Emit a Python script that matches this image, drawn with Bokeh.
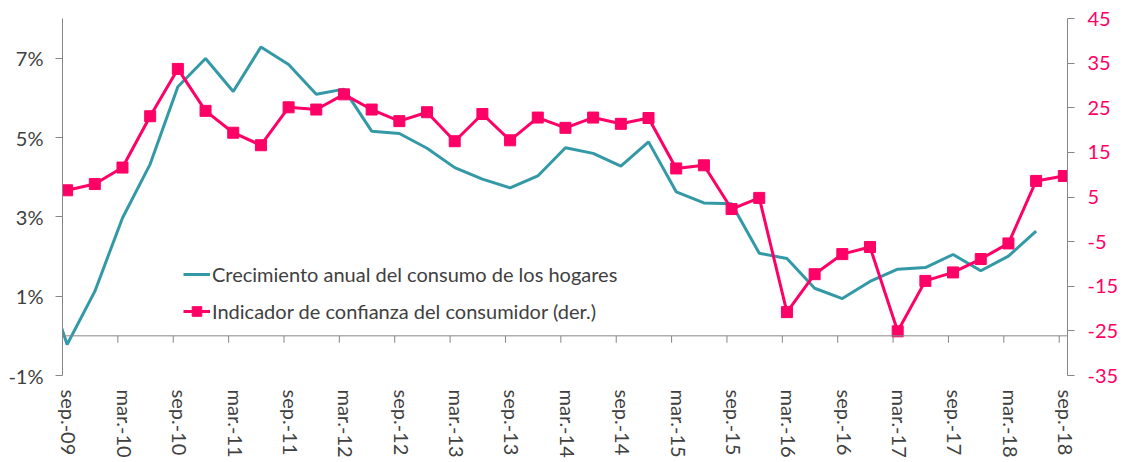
from bokeh.plotting import figure
from bokeh.models import (Range1d, LinearAxis, FixedTicker, PrintfTickFormatter,
                          Span, Legend, LegendItem, ColumnDataSource)
from bokeh.embed import file_html
from bokeh.resources import INLINE

# ---- data (quarterly) ----
quarters = ["sep.-09", "dic.-09", "mar.-10", "jun.-10", "sep.-10", "dic.-10",
            "mar.-11", "jun.-11", "sep.-11", "dic.-11", "mar.-12", "jun.-12",
            "sep.-12", "dic.-12", "mar.-13", "jun.-13", "sep.-13", "dic.-13",
            "mar.-14", "jun.-14", "sep.-14", "dic.-14", "mar.-15", "jun.-15",
            "sep.-15", "dic.-15", "mar.-16", "jun.-16", "sep.-16", "dic.-16",
            "mar.-17", "jun.-17", "sep.-17", "dic.-17", "mar.-18", "jun.-18",
            "sep.-18"]

# Crecimiento anual del consumo de los hogares (%), first value = jun.-09
consumo_prev = 1.9
consumo = [-0.22, 1.12, 2.97, 4.33, 6.28, 6.99, 6.16, 7.28, 6.84, 6.09,
           6.22, 5.16, 5.10, 4.73, 4.24, 3.95, 3.73, 4.03, 4.74, 4.60,
           4.28, 4.89, 3.63, 3.35, 3.33, 2.08, 1.95, 1.20, 0.94, 1.37,
           1.68, 1.72, 2.05, 1.64, 2.01, 2.64]

# Indicador de confianza del consumidor (der.)
confianza = [6.5, 7.9, 11.6, 23.1, 33.7, 24.3, 19.4, 16.6, 25.1, 24.6,
             28.0, 24.6, 22.0, 24.0, 17.5, 23.6, 17.7, 22.8, 20.5, 22.8,
             21.4, 22.7, 11.4, 12.1, 2.3, 4.8, -20.8, -12.3, -7.8, -6.2,
             -25.1, -13.8, -11.9, -8.9, -5.4, 8.6, 9.7]

tick_labels = ["sep.-09", "mar.-10", "sep.-10", "mar.-11", "sep.-11", "mar.-12",
               "sep.-12", "mar.-13", "sep.-13", "mar.-14", "sep.-14", "mar.-15",
               "sep.-15", "mar.-16", "sep.-16", "mar.-17", "sep.-17", "mar.-18",
               "sep.-18"]
left_ticks = [-1, 1, 3, 5, 7]
right_ticks = [-35, -25, -15, -5, 5, 15, 25, 35, 45]

# ---- derived positions (months since sep.-09; observations at mid-month) ----
x_q = [3 * i + 0.5 for i in range(len(quarters))]
x_cons = [x_q[0] - 3] + x_q[:len(consumo)]
y_cons = [consumo_prev] + consumo
x_ticks = [6 * i for i in range(len(tick_labels))]
LABEL_SHIFT = 0.75  # rotated labels sit slightly right of their tick mark
x_label_pos = [t + LABEL_SHIFT for t in x_ticks]

TEAL = "#3399A6"
PINK = "#FF0066"
GREY_AX = "#868686"
TXT = "#404040"
FONT = "Lato"
FS = "20px"

p = figure(width=1121, height=460, output_backend="svg", toolbar_location=None,
           x_range=Range1d(0, 108.9), y_range=Range1d(-1, 8),
           min_border_left=62, min_border_right=52, min_border_top=18,
           min_border_bottom=82, background_fill_color=None,
           border_fill_color=None, outline_line_color=None)
p.xgrid.visible = False
p.ygrid.visible = False
p.extra_y_ranges = {"der": Range1d(-35, 45)}

# x axis: labels only at the bottom
xa = p.xaxis[0]
xa.ticker = FixedTicker(ticks=x_label_pos)
xa.major_label_overrides = {t: lab for t, lab in zip(x_label_pos, tick_labels)}
xa.major_label_orientation = "vertical"
xa.axis_line_color = None
xa.major_tick_line_color = None
xa.minor_tick_line_color = None
xa.major_tick_out = 0
xa.major_tick_in = 0
xa.major_label_standoff = 14
xa.major_label_text_font = FONT
xa.major_label_text_font_size = FS
xa.major_label_text_color = TXT

# left axis
ya = p.yaxis[0]
ya.ticker = FixedTicker(ticks=left_ticks)
ya.formatter = PrintfTickFormatter(format="%d%%")
ya.axis_line_color = GREY_AX
ya.major_tick_line_color = GREY_AX
ya.minor_tick_line_color = None
ya.major_tick_out = 7
ya.major_tick_in = 0
ya.major_label_standoff = 12
ya.major_label_text_font = FONT
ya.major_label_text_font_size = FS
ya.major_label_text_color = TXT

# right axis
ra = LinearAxis(y_range_name="der", ticker=FixedTicker(ticks=right_ticks),
                formatter=PrintfTickFormatter(format="%d"))
ra.axis_line_color = GREY_AX
ra.major_tick_line_color = GREY_AX
ra.minor_tick_line_color = None
ra.major_tick_out = 7
ra.major_tick_in = 0
ra.major_label_standoff = 13
ra.major_label_text_font = FONT
ra.major_label_text_font_size = FS
ra.major_label_text_color = PINK
p.add_layout(ra, "right")

# horizontal category line at 0 % with tick marks below it
p.add_layout(Span(location=0, dimension="width", line_color=GREY_AX, line_width=1))
p.segment(x0=x_ticks, y0=[0] * len(x_ticks), x1=x_ticks, y1=[-0.175] * len(x_ticks),
          line_color=GREY_AX, line_width=1)

# series
r_cons = p.line(x_cons, y_cons, line_color=TEAL, line_width=3)
src = ColumnDataSource(dict(x=x_q, y=confianza))
r_conf_l = p.line("x", "y", source=src, y_range_name="der", line_color=PINK, line_width=3)
r_conf_m = p.scatter("x", "y", source=src, y_range_name="der", marker="square",
                     size=11, fill_color=PINK, line_color=PINK)

legend = Legend(items=[
    LegendItem(label="Crecimiento anual del consumo de los hogares", renderers=[r_cons]),
    LegendItem(label="Indicador de confianza del consumidor (der.)", renderers=[r_conf_l, r_conf_m]),
], location=(121, 52), orientation="vertical", border_line_color=None,
    background_fill_alpha=0, padding=0, margin=0, spacing=13,
    glyph_width=27, glyph_height=24, label_height=24, label_standoff=2,
    label_text_font=FONT, label_text_font_size=FS, label_text_color=TXT)
p.add_layout(legend, "center")

open("out.html", "w").write(file_html(p, INLINE))
